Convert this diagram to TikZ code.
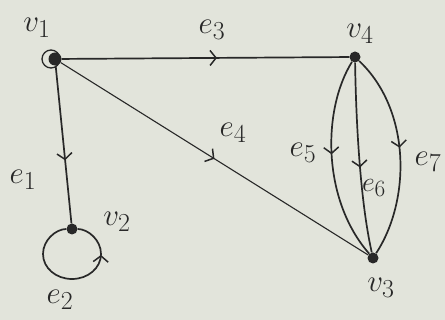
\documentclass[tikz,border=0pt]{standalone}
\usetikzlibrary{arrows.meta,decorations.markings}
\definecolor{giay}{RGB}{226,228,219}
\definecolor{muc}{RGB}{40,40,40}
\tikzset{
  dinh/.style={circle,fill=muc,inner sep=0pt,minimum size=11pt},
  canh/.style={draw=muc,line width=1.7pt},
  nhan/.style={text=muc,font=\Huge,scale=1.25},
  muiten/.style={postaction={decorate},decoration={markings,
    mark=at position #1 with {\arrow[muc,line width=1.5pt]{Straight Barb[length=6pt,width=15pt]}}}},
}
\begin{document}
\begin{tikzpicture}[x=1pt,y=-1pt]
    % Nền giấy
    \fill[giay] (0,0) rectangle (445,320);
    \useasboundingbox (0,0) rectangle (445,320);

    % Các đỉnh
    \node[dinh,minimum size=13pt] (v1) at (55,59) {};
    \node[dinh] (v4) at (355,57) {};
    \node[dinh] (v2) at (72,229) {};
    \node[dinh] (v3) at (373,258) {};
    \draw[muc,line width=1.3pt] (51,59) circle (9);

    % Tên đỉnh
    \node[nhan] (t1) at (37,28) {$v_1$};
    \node[nhan] (t4) at (360,34) {$v_4$};
    \node[nhan] (t2) at (117,222) {$v_2$};
    \node[nhan] (t3) at (381,288) {$v_3$};

    % Các cạnh
    \draw[canh,muiten=0.54] (v1) -- (v4);
    \draw[canh,muiten=0.6] (v1) -- (v2);
    \draw[canh,line width=1.1pt,muiten=0.5] (v1) -- (v3);
    \draw[canh,muiten=0.47] (v4) .. controls (322,110) and (322,200) .. (v3);
    \draw[canh,muiten=0.55] (v4) .. controls (356,120) and (360,200) .. (v3);
    \draw[canh,muiten=0.47] (v4) .. controls (411,110) and (411,200) .. (v3);
    % Khuyên tại v2
    \draw[canh,muiten=0.76] (v2) .. controls (56,229) and (43,240) .. (43,254)
        .. controls (43,268) and (56,279) .. (72,279)
        .. controls (88,279) and (101,268) .. (101,254)
        .. controls (101,240) and (88,229) .. (v2);

    % Tên cạnh
    \node[nhan] (e1) at (23,180) {$e_1$};
    \node[nhan] (e2) at (60,300) {$e_2$};
    \node[nhan] (e3) at (212,30) {$e_3$};
    \node[nhan] (e4) at (233,133) {$e_4$};
    \node[nhan] (e5) at (303,153) {$e_5$};
    \node[nhan,scale=0.9] (e6) at (374,188) {$e_6$};
    \node[nhan] (e7) at (428,162) {$e_7$};
\end{tikzpicture}
\end{document}
